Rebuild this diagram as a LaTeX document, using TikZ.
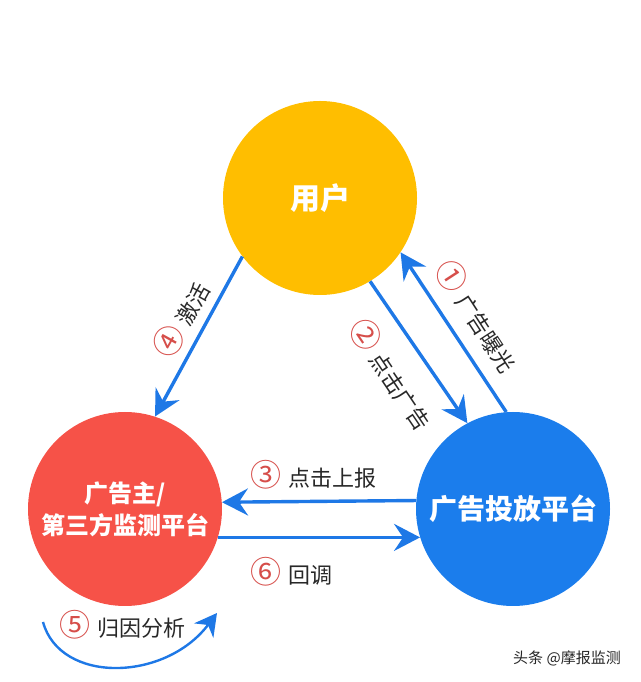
\documentclass[tikz,border=0pt]{standalone}
\usepackage{fontspec}
\setmainfont{Noto Sans CJK SC}
\usetikzlibrary{arrows.meta}

\definecolor{userYellow}{RGB}{255,190,0}
\definecolor{advRed}{RGB}{246,82,72}
\definecolor{platBlue}{RGB}{27,125,236}
\definecolor{flowBlue}{RGB}{30,120,230}
\definecolor{numRed}{RGB}{214,78,74}
\definecolor{tagGray}{RGB}{40,40,40}

\newcommand\stepno[1]{{\color{numRed}\fontsize{31}{28}\selectfont #1}\hspace{7pt}}

\begin{document}
\begin{tikzpicture}[
    x = 1pt, y = 1pt,
    hub/.style = {
        circle,
        minimum size = 194pt,
        inner sep = 0pt,
        text = white,
        align = center
    },
    flow/.style = {
        draw = flowBlue,
        line width = 3.4pt,
        -{Stealth[length=26pt, width=27pt, inset=9pt]}
    },
    cycleflow/.style = {
        draw = flowBlue,
        line width = 2.4pt,
        -{Stealth[length=22pt, width=24pt, inset=7pt]}
    },
    tag/.style = {
        text = tagGray,
        font = \fontsize{22}{26}\selectfont
    }
]

\useasboundingbox (0,0) rectangle (640,682);

% Three parties
\node[hub, fill = userYellow, font = \bfseries\fontsize{30}{34}\selectfont] (user) at (320,484) {用户};
\node[hub, fill = advRed, font = \bfseries\fontsize{24}{32}\selectfont] (adv) at (125,173) {广告主/\\第三方监测平台};
\node[hub, fill = platBlue, font = \bfseries\fontsize{28}{32}\selectfont] (plat) at (513,173) {广告投放平台};

% Flows between parties
\draw[flow] (plat.94.7) -- (user.326);
\draw[flow] (user.301.6) -- (plat.118);
\draw[flow] (plat.175.8) -- (adv.4.2);
\draw[flow] (user.217.5) -- (adv.72);
\draw[flow] (adv.-17.4) -- (plat.197.9);

% Attribution loop under the advertiser
\coordinate (loopStart) at (43,60);
\coordinate (loopEnd) at (217,69);
\draw[cycleflow] (loopStart) .. controls (60,-2) and (165,0) .. (loopEnd);

% Step labels on the slanted flows
\foreach \name / \x / \y / \ang / \num / \txt in {exposeLabel/478/366/-57/①/广告曝光, clickLabel/392/308/-56/②/点击广告, activeLabel/181/363/61/④/激活} {
    \node[tag, rotate = \ang] (\name) at (\x,\y) {\stepno{\num}\txt};
}

% Step labels on the level flows
\node[tag] (reportLabel) at (313,207) {\stepno{③}点击上报};
\node[tag] (callbackLabel) at (291,110) {\stepno{⑥}回调};
\node[tag] (attrLabel) at (122.5,57) {\stepno{⑤}归因分析};

% Watermark
\node[text = gray!30!black, font = \fontsize{15}{15}\selectfont] (mark) at (567,24) {头条 @摩报监测};

\end{tikzpicture}
\end{document}
